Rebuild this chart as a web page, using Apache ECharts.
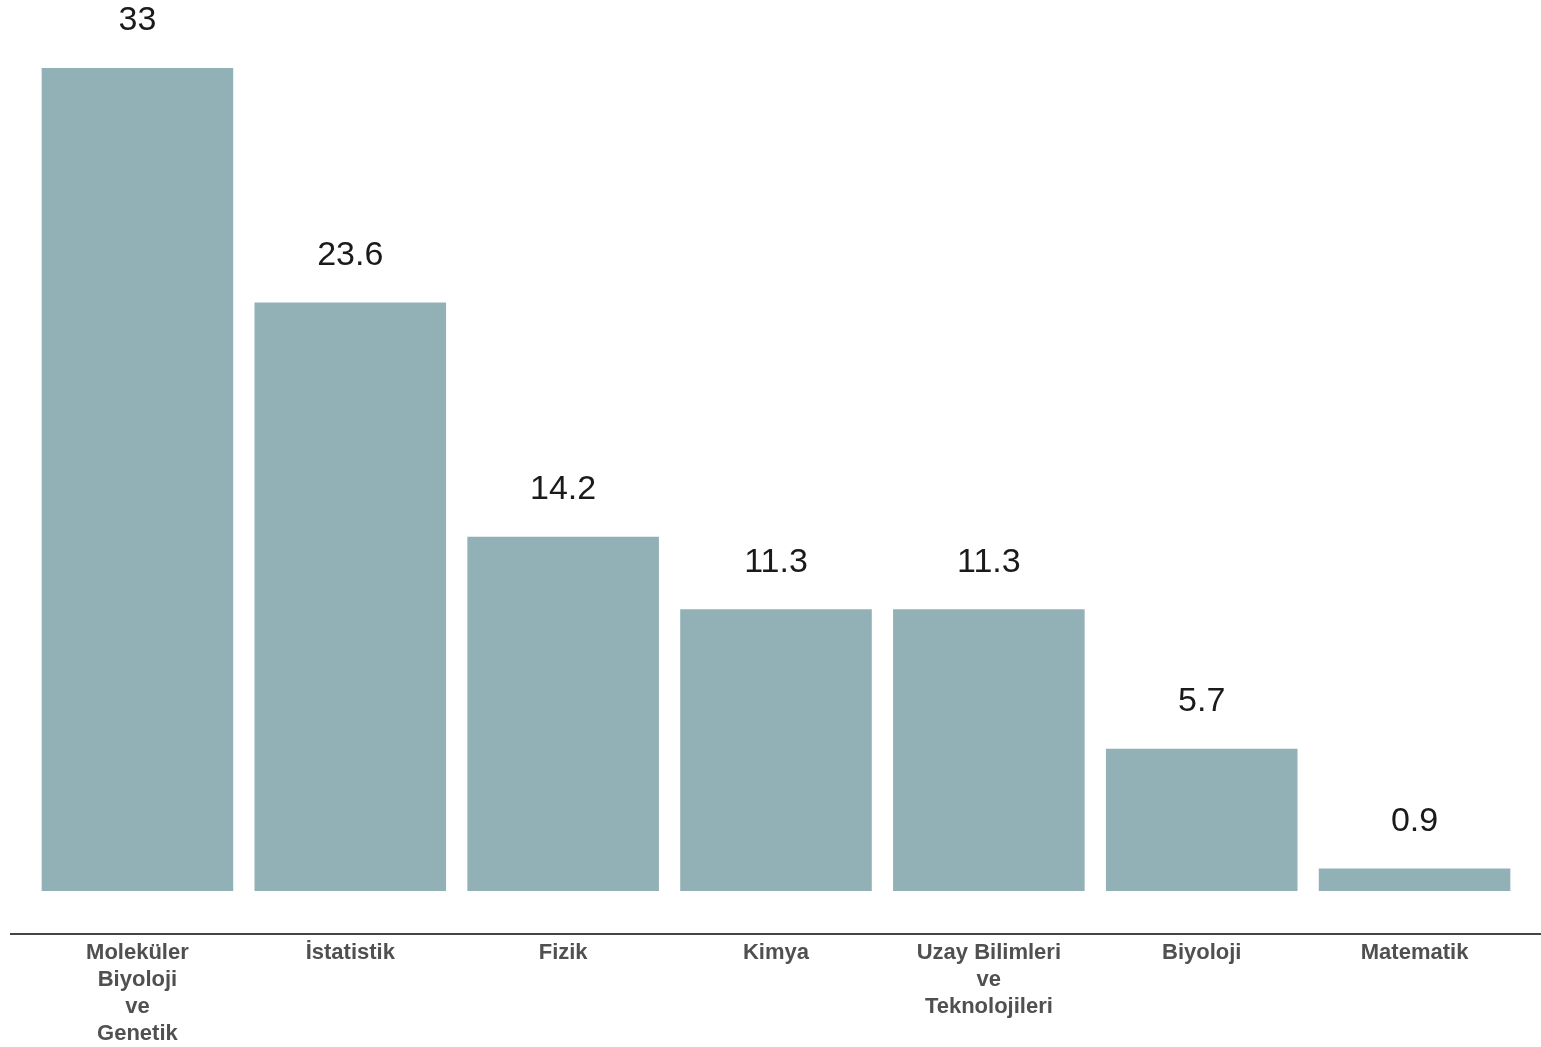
<!DOCTYPE html>
<html>
<head>
<meta charset="utf-8">
<script src="https://cdn.jsdelivr.net/npm/echarts@6/dist/echarts.min.js"></script>
<style>
html,body{margin:0;padding:0;background:#fff;}
#chart{width:1541px;height:1047px;}
</style>
</head>
<body>
<div id="chart"></div>
<script>
const categories = ["Moleküler\nBiyoloji\nve\nGenetik", "İstatistik", "Fizik", "Kimya", "Uzay Bilimleri\nve\nTeknolojileri", "Biyoloji", "Matematik"];
const values = [33, 23.6, 14.2, 11.3, 11.3, 5.7, 0.9];

const chart = echarts.init(document.getElementById('chart'));
chart.setOption({
  animation: false,
  backgroundColor: '#ffffff',
  grid: { left: 31, right: 20, top: 68, bottom: 153, containLabel: false },
  xAxis: {
    type: 'category',
    data: categories,
    offset: 40,
    axisLine: { show: false },
    axisTick: { show: false },
    axisLabel: {
      interval: 0,
      margin: 8,
      color: '#505050',
      fontFamily: 'Liberation Sans, Arial, sans-serif',
      fontWeight: 'bold',
      fontSize: 22,
      lineHeight: 27,
      align: 'center'
    }
  },
  yAxis: {
    type: 'value',
    min: 0,
    max: 33,
    show: false,
    splitLine: { show: false }
  },
  series: [{
    type: 'bar',
    data: values,
    barCategoryGap: '10%',
    itemStyle: { color: '#92b1b6' },
    label: {
      show: true,
      position: 'top',
      distance: 30,
      color: '#1a1a1a',
      fontFamily: 'Liberation Sans, Arial, sans-serif',
      fontSize: 34
    }
  }],
  graphic: [{
    type: 'line',
    shape: { x1: 10, y1: 934, x2: 1541, y2: 934 },
    style: { stroke: '#444444', lineWidth: 2 }
  }]
});
</script>
</body>
</html>
